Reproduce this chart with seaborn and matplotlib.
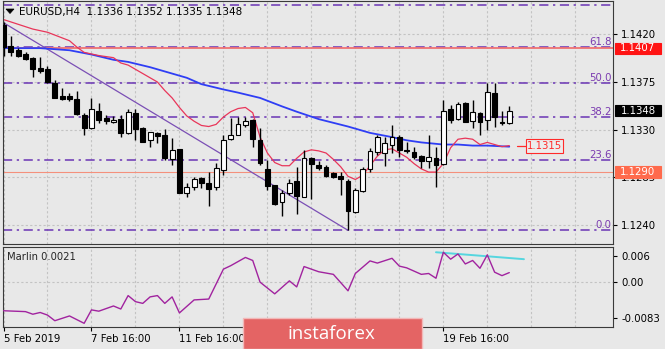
import matplotlib
matplotlib.use("Agg")
import matplotlib.pyplot as plt
import seaborn as sns
import pandas as pd
from matplotlib.patches import Rectangle, Polygon
from matplotlib.transforms import blended_transform_factory

# ---------------- data ----------------
opens = [1.1429, 1.1409, 1.1405, 1.1401, 1.1398, 1.1388, 1.1387, 1.1374, 1.1362, 1.1362,
         1.1359, 1.1344, 1.1332, 1.1348, 1.1341, 1.1337, 1.1340, 1.1327, 1.1346, 1.1332,
         1.1320, 1.1327, 1.1325, 1.1302, 1.1312, 1.1270, 1.1276, 1.1284, 1.1280, 1.1276,
         1.1292, 1.1321, 1.1325, 1.1334, 1.1339, 1.1320, 1.1293, 1.1278, 1.1262, 1.1270,
         1.1282, 1.1266, 1.1303, 1.1297, 1.1295, 1.1289, 1.1286, 1.1282, 1.1252, 1.1272,
         1.1293, 1.1309, 1.1308, 1.1316, 1.1323, 1.1311, 1.1309, 1.1305, 1.1300, 1.1303,
         1.1298, 1.1350, 1.1340, 1.1355, 1.1338, 1.1346, 1.1339, 1.1365, 1.1337, 1.1336]
highs = [1.1432, 1.1418, 1.1407, 1.1403, 1.1399, 1.1399, 1.1390, 1.1377, 1.1369, 1.1365,
         1.1367, 1.1346, 1.1360, 1.1355, 1.1344, 1.1343, 1.1344, 1.1350, 1.1350, 1.1333,
         1.1328, 1.1328, 1.1331, 1.1322, 1.1312, 1.1280, 1.1285, 1.1285, 1.1290, 1.1299,
         1.1325, 1.1341, 1.1342, 1.1342, 1.1340, 1.1332, 1.1301, 1.1278, 1.1273, 1.1283,
         1.1295, 1.1311, 1.1304, 1.1300, 1.1297, 1.1290, 1.1290, 1.1283, 1.1275, 1.1295,
         1.1313, 1.1325, 1.1323, 1.1334, 1.1325, 1.1318, 1.1314, 1.1306, 1.1325, 1.1314,
         1.1358, 1.1353, 1.1356, 1.1356, 1.1358, 1.1347, 1.1374, 1.1374, 1.1348, 1.1352]
lows = [1.1400, 1.1400, 1.1399, 1.1396, 1.1380, 1.1384, 1.1374, 1.1360, 1.1358, 1.1357,
        1.1344, 1.1325, 1.1331, 1.1336, 1.1335, 1.1336, 1.1323, 1.1326, 1.1320, 1.1318,
        1.1314, 1.1317, 1.1301, 1.1297, 1.1270, 1.1266, 1.1273, 1.1275, 1.1258, 1.1273,
        1.1287, 1.1320, 1.1325, 1.1333, 1.1314, 1.1297, 1.1273, 1.1259, 1.1249, 1.1268,
        1.1250, 1.1266, 1.1265, 1.1292, 1.1285, 1.1284, 1.1268, 1.1235, 1.1251, 1.1271,
        1.1290, 1.1306, 1.1296, 1.1308, 1.1304, 1.1308, 1.1302, 1.1294, 1.1294, 1.1276,
        1.1297, 1.1336, 1.1339, 1.1337, 1.1332, 1.1325, 1.1330, 1.1333, 1.1334, 1.1335]
closes = [1.1408, 1.1403, 1.1400, 1.1397, 1.1387, 1.1385, 1.1375, 1.1360, 1.1359, 1.1359,
          1.1345, 1.1332, 1.1350, 1.1339, 1.1338, 1.1339, 1.1327, 1.1347, 1.1331, 1.1318,
          1.1328, 1.1324, 1.1303, 1.1311, 1.1270, 1.1276, 1.1283, 1.1280, 1.1274, 1.1294,
          1.1320, 1.1325, 1.1335, 1.1338, 1.1321, 1.1299, 1.1277, 1.1260, 1.1270, 1.1280,
          1.1267, 1.1303, 1.1298, 1.1294, 1.1286, 1.1285, 1.1283, 1.1253, 1.1273, 1.1293,
          1.1310, 1.1323, 1.1317, 1.1323, 1.1311, 1.1310, 1.1304, 1.1300, 1.1304, 1.1297,
          1.1348, 1.1339, 1.1354, 1.1337, 1.1347, 1.1337, 1.1366, 1.1342, 1.1336, 1.1348]

red_ma_idx = [0, 4, 6, 9, 10, 11, 13, 15, 16, 17, 19, 21, 22, 23, 24, 25, 26, 27, 28, 29,
              30, 31, 32, 33, 34, 35, 36, 37, 38, 39, 40, 41, 42, 43, 44, 45, 46, 47, 48, 49,
              50, 51, 52, 53, 54, 55, 56, 57, 58, 59, 60, 61, 62, 63, 64, 65, 66, 67, 68, 69]
red_ma = [1.1434, 1.1425, 1.1422, 1.1414, 1.1408, 1.1403, 1.1400, 1.1398, 1.1393, 1.1391,
          1.1383, 1.1375, 1.1367, 1.1360, 1.1351, 1.1343, 1.1338, 1.1334, 1.1333, 1.1335,
          1.1342, 1.1347, 1.1350, 1.1351, 1.1346, 1.1323, 1.1308, 1.1299, 1.1296, 1.1296,
          1.1303, 1.1309, 1.1311, 1.1310, 1.1308, 1.1302, 1.1295, 1.1286, 1.1283, 1.1287,
          1.1296, 1.1305, 1.1311, 1.1312, 1.1308, 1.1304, 1.1298, 1.1293, 1.1290, 1.1290,
          1.1298, 1.1313, 1.1321, 1.1322, 1.1321, 1.1316, 1.1318, 1.1316, 1.1314, 1.1315]

blue_ma_idx = [0, 5, 9, 12, 15, 17, 20, 25, 27, 30, 32, 35, 38, 40, 43, 47, 50, 53, 55, 57,
               60, 62, 64, 66, 69]
blue_ma = [1.1407, 1.1407, 1.1405, 1.1401, 1.1396, 1.1394, 1.1389, 1.1379, 1.1373, 1.1368,
           1.1365, 1.1360, 1.1352, 1.1347, 1.1340, 1.1333, 1.1327, 1.1323, 1.1320, 1.1318,
           1.1316, 1.1316, 1.1315, 1.1315, 1.1314]

trend_idx = [0, 47]
trend_price = [1.1431, 1.1235]

fib_levels = ["0.0", "23.6", "38.2", "50.0", "61.8", "76.4"]
fib_prices = [1.1235, 1.1301, 1.1342, 1.1374, 1.1408, 1.1448]

red_levels = [1.1407, 1.1290]

price_ticks = [1.1240, 1.1285, 1.1330, 1.1375, 1.1420]

marlin_idx = [0, 3, 4, 5, 6, 7, 9, 11, 12, 13, 15, 16, 17, 18, 19, 20, 21, 22, 23, 24,
              26, 28, 30, 31, 33, 34, 35, 37, 39, 40, 41, 43, 45, 47, 48, 50, 51, 53, 54, 55,
              57, 58, 59, 60, 61, 62, 63, 64, 65, 66, 67, 68, 69]
marlin = [-0.0067, -0.0069, -0.0075, -0.0071, -0.0077, -0.0090, -0.0079, -0.0096, -0.0065, -0.0068,
          -0.0056, -0.0063, -0.0032, -0.0046, -0.0050, -0.0035, -0.0032, -0.0050, -0.0035, -0.0072,
          -0.0042, -0.0040, 0.0029, 0.0037, 0.0056, 0.0049, -0.0001, -0.0028, 0.0002, -0.0012,
          0.0035, 0.0023, 0.0017, -0.0021, 0.0019, 0.0048, 0.0043, 0.0054, 0.0036, 0.0032,
          0.0017, 0.0019, 0.0008, 0.0068, 0.0052, 0.0064, 0.0041, 0.0049, 0.0031, 0.0062,
          0.0022, 0.0014, 0.0021]
cyan_idx = [59, 71]
cyan_vals = [0.0068, 0.0052]
marlin_ticks = [0.006, 0.0, -0.0083]
marlin_tick_labels = ["0.006", "0.00", "-0.0083"]

date_idx = [0, 12, 24, 36, 48, 60]
date_labels = ["5 Feb 2019", "7 Feb 16:00", "11 Feb 16:00", "", "", "19 Feb 16:00"]

title = "EURUSD,H4  1.1336 1.1352 1.1335 1.1348"
ma_label_price = 1.1315
last_price = 1.1348

# ---------------- style ----------------
BG = "#e8e8e8"
sns.set_theme(style="white", rc={"axes.facecolor": BG, "figure.facecolor": BG})
plt.rcParams["font.family"] = ["DejaVu Sans"]
FS = 7.3

W, H = 665, 349
fig = plt.figure(figsize=(W / 100, H / 100), dpi=100)


def fx(px):
    return px / W


def fy(py):
    return 1 - py / H


ax = fig.add_axes([fx(3), fy(244), fx(613) - fx(3), fy(1) - fy(244)])
axi = fig.add_axes([fx(3), fy(327), fx(613) - fx(3), fy(247) - fy(327)])

XL = (-0.07, 83.15)
for a in (ax, axi):
    a.set_facecolor(BG)
    a.set_xlim(*XL)
    for s in a.spines.values():
        s.set_color("#3a3a3a")
        s.set_linewidth(0.8)
    for gx in range(0, 84, 6):
        a.axvline(gx, color="#c3c3c3", lw=0.8, ls=(0, (2, 2)), zorder=0.5)

ax.set_ylim(1.12221, 1.14515)
for p in price_ticks:
    ax.axhline(p, color="#c3c3c3", lw=0.8, ls=(0, (2, 2)), zorder=0.5)

# fib levels
FIB = "#6a34b4"
tr = blended_transform_factory(ax.transAxes, ax.transData)
for lab, p in zip(fib_levels, fib_prices):
    ax.axhline(p, color=FIB, lw=1.1, ls=(0, (6, 3, 1.5, 3)), zorder=1)
    ax.text(0.998, p + 0.00003, lab, transform=tr, ha="right", va="bottom",
            color="#7a3ab0", fontsize=FS, zorder=2, clip_on=True)

# red horizontal levels
ax.axhline(red_levels[0], color="#f07272", lw=1.3, zorder=1.5)
ax.axhline(red_levels[1], color="#f4907c", lw=0.8, zorder=1.5)

# trendline
tdf = pd.DataFrame({"i": trend_idx, "p": trend_price})
sns.lineplot(data=tdf, x="i", y="p", ax=ax, color="#7b4fb5", lw=0.9, zorder=2)

# moving averages
bdf = pd.DataFrame({"i": blue_ma_idx, "p": blue_ma})
sns.lineplot(data=bdf, x="i", y="p", ax=ax, color="#2f3ef5", lw=1.3, zorder=2.2)
rdf = pd.DataFrame({"i": red_ma_idx, "p": red_ma})
sns.lineplot(data=rdf, x="i", y="p", ax=ax, color="#e8365a", lw=0.9, zorder=2.3)

# candles
for i, (o, h, l, c) in enumerate(zip(opens, highs, lows, closes)):
    ax.vlines(i, l, h, color="black", lw=1.0, zorder=3)
    bull = c >= o
    ax.bar(i, max(abs(c - o), 0.00004), bottom=min(o, c), width=0.66,
           color="white" if bull else "black", edgecolor="black", lw=0.8, zorder=4)

ax.set_xlabel("")
ax.set_ylabel("")
ax.set_xticks([])
ax.yaxis.tick_right()
ax.set_yticks(price_ticks)
ax.set_yticklabels([f"{p:.4f}" for p in price_ticks])
ax.tick_params(axis="y", length=3, width=0.8, colors="black", labelsize=FS, pad=3,
               direction="out", right=True, left=False)

PX = 0.0000944  # price per pixel


def price_box(price, text, face, edge, tcolor, x0, x1, hpx):
    a0 = (x0 - 3) / 610
    a1 = (x1 - 3) / 610
    r = Rectangle((a0, price - hpx / 2 * PX), a1 - a0, hpx * PX, transform=tr,
                  facecolor=face, edgecolor=edge, lw=0.8, clip_on=False, zorder=20)
    ax.add_patch(r)
    ax.text((a0 + a1) / 2, price, text, transform=tr, ha="center", va="center",
            color=tcolor, fontsize=FS, clip_on=False, zorder=21)


price_box(red_levels[0], f"{red_levels[0]:.4f}", "#ff1414", "#ff1414", "white", 615, 661, 11)
price_box(last_price, f"{last_price:.4f}", "black", "black", "white", 615, 661, 11)
price_box(red_levels[1], f"{red_levels[1]:.4f}", "#ff6a4c", "#ff6a4c", "white", 615, 661, 12)
# MA value label inside chart
ax.plot([(517 - 3.5) / 7.33, (526 - 3.5) / 7.33], [ma_label_price, ma_label_price],
        color="#ff2a2a", lw=0.9, zorder=5)
price_box(ma_label_price, f"{ma_label_price:.4f}", "#ececec", "#ff2a2a", "#ff2a2a", 526, 563, 14)

# title
fig.text(fx(19), fy(12), title, fontsize=7.5, va="center", ha="left", color="black")
fig.add_artist(Polygon([[fx(6), fy(9)], [fx(14), fy(9)], [fx(10), fy(13.5)]],
                       closed=True, transform=fig.transFigure, facecolor="black",
                       edgecolor="black", lw=0.5))

# ---------------- indicator ----------------
axi.set_ylim(-0.01045, 0.00801)
axi.axhline(0.0, color="#c3c3c3", lw=0.8, ls=(0, (2, 2)), zorder=0.5)
mdf = pd.DataFrame({"i": marlin_idx, "v": marlin})
sns.lineplot(data=mdf, x="i", y="v", ax=axi, color="#a1239f", lw=1.0, zorder=3)
cdf = pd.DataFrame({"i": cyan_idx, "v": cyan_vals})
sns.lineplot(data=cdf, x="i", y="v", ax=axi, color="#55d6df", lw=1.4, zorder=2.5)
axi.set_xlabel("")
axi.set_ylabel("")
axi.yaxis.tick_right()
axi.set_yticks(marlin_ticks)
axi.set_yticklabels(marlin_tick_labels)
axi.tick_params(axis="y", length=3, width=0.8, colors="black", labelsize=FS, pad=3,
                direction="out", right=True, left=False)
axi.set_xticks(date_idx)
axi.set_xticklabels(date_labels, ha="left")
axi.tick_params(axis="x", length=3, width=0.8, colors="black", labelsize=FS, pad=2,
                direction="out", bottom=True)
fig.text(fx(7), fy(257.5), "Marlin 0.0021", fontsize=7.2, va="center", ha="left")

# ---------------- logo ----------------
fig.add_artist(Rectangle((fx(243), 0), fx(422) - fx(243), fy(318), transform=fig.transFigure,
                         facecolor="#e46464", edgecolor="#f2b8b8", lw=1.0, zorder=30))
fig.text(fx(331), fy(334), "instaforex", fontsize=13.5, color="white", ha="center",
         va="center", zorder=31, family=["Open Sans", "DejaVu Sans"])

fig.savefig("out.png", dpi=100, facecolor=BG)
